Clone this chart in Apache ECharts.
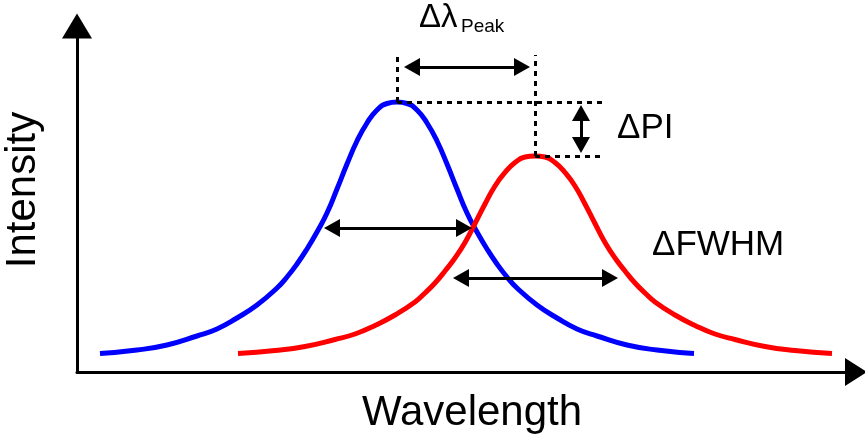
<!DOCTYPE html>
<html>
<head>
<meta charset="utf-8">
<script src="https://cdn.jsdelivr.net/npm/echarts@6/dist/echarts.min.js"></script>
<style>
html,body{margin:0;padding:0;background:#ffffff;}
#chart{width:865px;height:440px;}
</style>
</head>
<body>
<div id="chart"></div>
<script>
// Spectra (wavelength / intensity, arbitrary units)
const blueX = [100,137,167,197,217,237,257,277,287,297,307,317,327,337,347,357,367,377,387,397,
               407,417,427,437,447,457,467,477,487,497,507,517,537,557,577,597,627,657,694];
const blueY = [18.5,22,27,36,43,54,67,84,95,108,123,140,159,183,208,231,249,262,268.5,270,
               268.5,262,249,231,208,183,159,140,123,108,95,84,67,54,43,36,27,22,18.5];
const redX  = [238,275,305,335,355,375,395,415,425,435,445,455,465,475,485,495,505,515,525,535,
               545,555,565,575,585,595,605,615,625,635,645,655,675,695,715,735,765,795,832];
const redY  = [18.5,21.5,25.5,32.5,38,46.5,57,70,79,89,101,114,129.5,148.5,168,186,199.5,209.5,215,216,
               215,209.5,199.5,186,168,148.5,129.5,114,101,89,79,70,57,46.5,38,32.5,25.5,21.5,18.5];

// Annotation anchors (same units): arrow tips and guide ends
const bluePeak = [397, 270];
const redPeak = [535, 216];
const guideTopY = 317;
const guideRightX = 605;
const peakShiftArrow = [[404, 305], [530, 305]];
const intensityArrow = [[581, 267], [581, 219]];
const blueFwhmArrow = [[324, 144], [472, 144]];
const redFwhmArrow = [[453, 94], [618, 94]];

const FONT = "'Liberation Sans', Arial, Helvetica, sans-serif";
const HEAD = [18, 16]; // arrow head size in px (width, length)

function pairs(xs, ys) { return xs.map((x, i) => [x, ys[i]]); }

const chart = echarts.init(document.getElementById('chart'), null, {renderer: 'canvas'});

const guideLines = [
  [bluePeak, [bluePeak[0], guideTopY]],
  [redPeak, [redPeak[0], guideTopY]],
  [bluePeak, [guideRightX, bluePeak[1]]],
  [redPeak, [guideRightX, redPeak[1]]]
].map(seg => [{coord: seg[0], symbol: 'none'}, {coord: seg[1], symbol: 'none'}]);

function textEl(text, x, y, size, opts) {
  opts = opts || {};
  return {
    type: 'text',
    x: x, y: y,
    rotation: opts.rotation || 0,
    silent: true,
    style: {
      text: text,
      font: size + 'px ' + FONT,
      fill: '#000000',
      align: opts.align || 'left',
      verticalAlign: 'middle',
      textAlign: opts.align || 'left',
      textVerticalAlign: 'middle'
    }
  };
}

const baseOption = {
  animation: false,
  backgroundColor: '#ffffff',
  grid: {left: 77, right: 9, top: 26, bottom: 68, containLabel: false},
  xAxis: {
    type: 'value', min: 77, max: 856,
    axisLine: {show: true, onZero: false, symbol: ['none', 'triangle'], symbolSize: [28, 22],
      lineStyle: {color: '#000000', width: 3}},
    axisTick: {show: false}, axisLabel: {show: false}, splitLine: {show: false}
  },
  yAxis: {
    type: 'value', min: 0, max: 346,
    axisLine: {show: true, onZero: false, symbol: ['none', 'triangle'], symbolSize: [30, 25],
      lineStyle: {color: '#000000', width: 3}},
    axisTick: {show: false}, axisLabel: {show: false}, splitLine: {show: false}
  },
  series: [
    {
      name: 'Spectrum 1', type: 'line', data: pairs(blueX, blueY),
      smooth: 0.5, showSymbol: false, silent: true,
      lineStyle: {color: '#0000ff', width: 5, cap: 'butt'},
      markLine: {
        silent: true, symbol: 'none', label: {show: false},
        lineStyle: {color: '#000000', width: 3, type: [5, 5]},
        emphasis: {disabled: true},
        data: guideLines
      }
    },
    {
      name: 'Spectrum 2', type: 'line', data: pairs(redX, redY),
      smooth: 0.5, showSymbol: false, silent: true,
      lineStyle: {color: '#ff0000', width: 5, cap: 'butt'}
    }
  ],
  graphic: [
    textEl('Δλ', 419, 18, 33),
    textEl('Peak', 461, 27, 19),
    textEl('ΔPI', 617, 128, 35),
    textEl('ΔFWHM', 652, 245, 35),
    textEl('Wavelength', 472, 413, 42, {align: 'center'}),
    textEl('Intensity', 23, 190, 42, {align: 'center', rotation: Math.PI / 2})
  ]
};
chart.setOption(baseOption);

// Arrow heads are centred on line ends, so pull each end back by half a head length
// (converted through the axes' own scales).
function arrowSegment(seg) {
  const a = chart.convertToPixel({gridIndex: 0}, seg[0]);
  const b = chart.convertToPixel({gridIndex: 0}, seg[1]);
  const dx = b[0] - a[0], dy = b[1] - a[1];
  const len = Math.sqrt(dx * dx + dy * dy);
  const ux = dx / len, uy = dy / len, h = HEAD[1] / 2;
  const a2 = chart.convertFromPixel({gridIndex: 0}, [a[0] + ux * h, a[1] + uy * h]);
  const b2 = chart.convertFromPixel({gridIndex: 0}, [b[0] - ux * h, b[1] - uy * h]);
  return [{coord: a2}, {coord: b2}];
}

chart.setOption({
  series: [{}, {
    markLine: {
      silent: true, symbol: ['triangle', 'triangle'], symbolSize: HEAD,
      label: {show: false},
      lineStyle: {color: '#000000', width: 3, type: 'solid'},
      itemStyle: {color: '#000000'},
      emphasis: {disabled: true},
      data: [peakShiftArrow, intensityArrow, blueFwhmArrow, redFwhmArrow].map(arrowSegment)
    }
  }]
});
</script>
</body>
</html>
